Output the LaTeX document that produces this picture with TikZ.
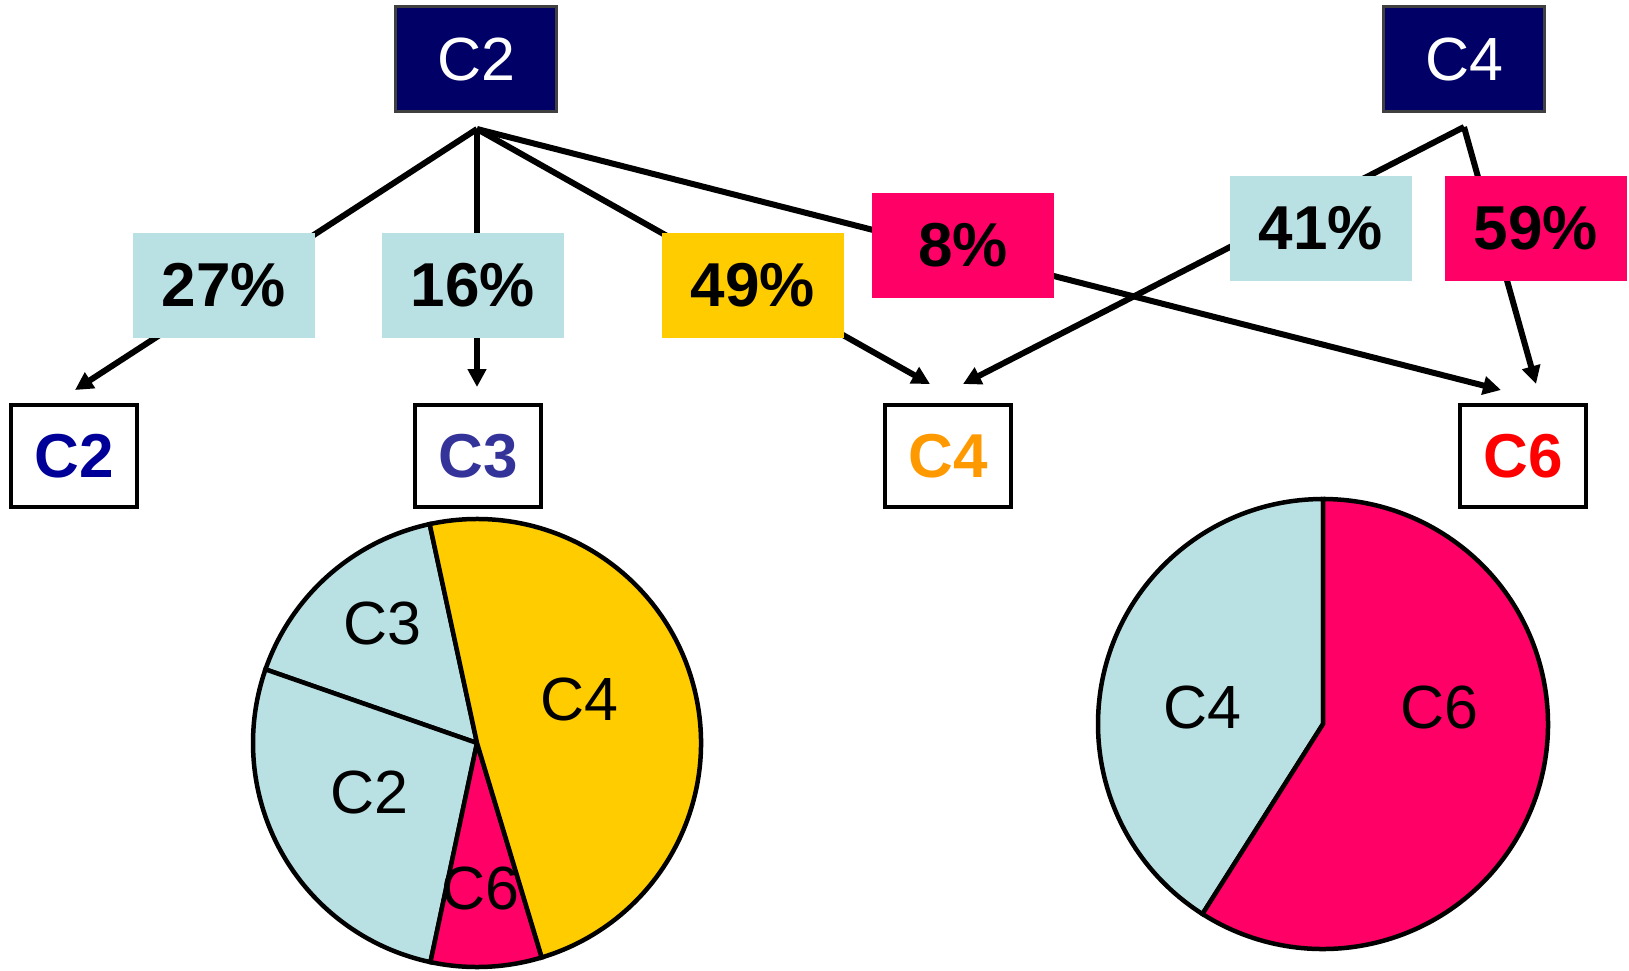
\documentclass[tikz,border=0pt]{standalone}
\usepackage{fontspec}
\setmainfont{Liberation Sans}
\usetikzlibrary{arrows.meta}
\definecolor{lb}{HTML}{B9E0E3}
\definecolor{pinkc}{HTML}{FF0066}
\definecolor{goldc}{HTML}{FFCC00}
\definecolor{navyc}{HTML}{000066}
\definecolor{tcii}{HTML}{000099}
\definecolor{tciii}{HTML}{333399}
\definecolor{tciv}{HTML}{FF9900}
\definecolor{tcvi}{HTML}{FF0000}
\begin{document}
\begin{tikzpicture}[x=1pt,y=-1pt]
\tikzset{
  topbox/.style={draw=black!75,line width=3.5pt,fill=navyc,text=white,minimum width=161pt,minimum height=105pt,inner sep=0pt,font=\fontsize{61}{70}\selectfont},
  pctbox/.style={minimum width=182pt,minimum height=105pt,inner sep=0pt,font=\bfseries\fontsize{62}{70}\selectfont},
  endbox/.style={draw=black,line width=4pt,fill=white,minimum width=126pt,minimum height=102pt,inner sep=0pt,font=\bfseries\fontsize{62}{70}\selectfont},
  conn/.style={-{Triangle[length=18pt,width=18pt]},line width=6pt},
  slice/.style={draw=black,line width=4.5pt},
  pielab/.style={font=\fontsize{61}{70}\selectfont,inner sep=0pt}}
\useasboundingbox (0,0) rectangle (1629,970);
% junctions and arrow tips
\coordinate (j2) at (477,129);
\coordinate (j4) at (1464,127);
\coordinate (t1) at (75,390);
\coordinate (t2) at (477,387);
\coordinate (t3) at (930,384);
\coordinate (t4) at (963,384);
\coordinate (t5) at (1501,390);
\coordinate (t6) at (1536,384);
% connectors
\draw[conn] (j2) -- (t1);
\draw[conn] (j2) -- (t2);
\draw[conn] (j2) -- (t3);
\draw[conn] (j2) -- (t5);
\draw[conn] (j4) -- (t4);
\draw[conn] (j4) -- (t6);
% top boxes
\node[topbox] (top2) at (476,59) {C2};
\node[topbox] (top4) at (1464,59) {C4};
% percent labels
\node[pctbox,fill=lb] (p27) at (224,285) {27\%};
\node[pctbox,fill=lb] (p16) at (473,285) {16\%};
\node[pctbox,fill=goldc] (p49) at (753,285) {49\%};
\node[pctbox,fill=pinkc] (p8) at (963,245) {8\%};
\node[pctbox,fill=lb] (p41) at (1321,228) {41\%};
\node[pctbox,fill=pinkc] (p59) at (1536,228) {59\%};
% bottom boxes
\node[endbox,text=tcii] (b2) at (74,456) {C2};
\node[endbox,text=tciii] (b3) at (478,456) {C3};
\node[endbox,text=tciv] (b4) at (948,456) {C4};
\node[endbox,text=tcvi] (b6) at (1523,456) {C6};
% pie 1
\coordinate (pa) at (477,743);
\filldraw[slice,fill=lb] (pa) -- ++(-102.2:224) arc[start angle=-102.2,end angle=-160.8,radius=224] -- cycle;
\filldraw[slice,fill=lb] (pa) -- ++(-160.8:224) arc[start angle=-160.8,end angle=-258,radius=224] -- cycle;
\filldraw[slice,fill=pinkc] (pa) -- ++(-258:224) arc[start angle=-258,end angle=-286.8,radius=224] -- cycle;
\filldraw[slice,fill=goldc] (pa) -- ++(-286.8:224) arc[start angle=-286.8,end angle=-462.2,radius=224] -- cycle;
\node[pielab] (la3) at (382,623) {C3};
\node[pielab] (la2) at (369,792) {C2};
\node[pielab] (la4) at (579,699) {C4};
\node[pielab] (la6) at (480,888) {C6};
% pie 2
\coordinate (pb) at (1323,724);
\filldraw[slice,fill=lb] (pb) -- ++(-90:225) arc[start angle=-90,end angle=-237.6,radius=225] -- cycle;
\filldraw[slice,fill=pinkc] (pb) -- ++(-237.6:225) arc[start angle=-237.6,end angle=-450,radius=225] -- cycle;
\node[pielab] (lb4) at (1202,707) {C4};
\node[pielab] (lb6) at (1439,707) {C6};
\end{tikzpicture}
\end{document}
